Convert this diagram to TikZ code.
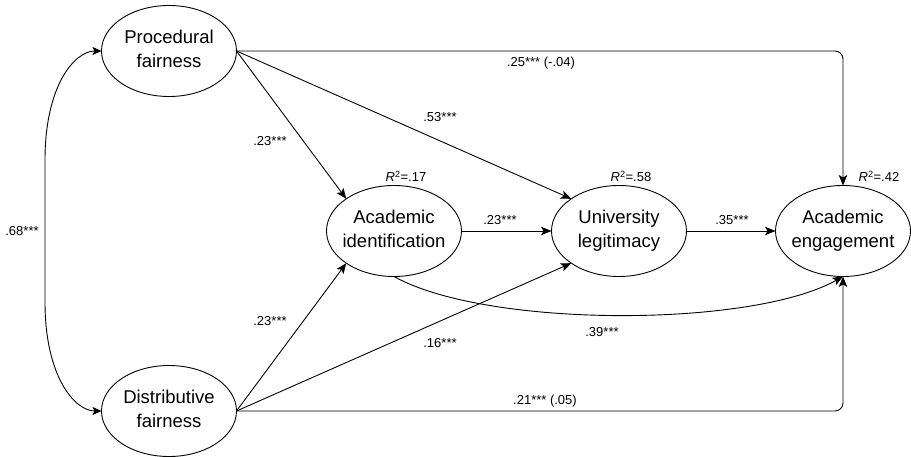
\documentclass[tikz,border=0pt]{standalone}
\usepackage{fontspec}
\setmainfont{Liberation Sans}
\usetikzlibrary{arrows.meta,shapes.geometric}
\begin{document}
\begin{tikzpicture}[x=1pt,y=-1pt,
  ell/.style={draw, ellipse, minimum width=135pt, minimum height=91pt, inner sep=0pt, outer sep=0pt, line width=0.9pt},
  ntext/.style={align=center, font=\fontsize{18.5}{24}\selectfont, inner sep=0pt},
  lab/.style={font=\fontsize{13}{15}\selectfont, inner sep=0pt, text height=9.3pt, text depth=0pt},
  arr/.style={-{Stealth[length=10.5pt,width=8.5pt,inset=2.5pt]}, line width=0.9pt},
  dbl/.style={{Stealth[length=9pt,width=8pt,inset=2pt]}-{Stealth[length=9pt,width=8pt,inset=2pt]}, line width=0.9pt}]
\useasboundingbox (0,0) rectangle (911,457);

% latent variables
\node[ell] (pf) at (169,51) {};
\node[ntext] (pft) at (pf) {\strut Procedural\\\strut fairness};
\node[ell] (df) at (169,411) {};
\node[ntext] (dft) at (df) {\strut Distributive\\\strut fairness};
\node[ell] (ai) at (394,231) {};
\node[ntext] (ait) at (ai) {\strut Academic\\\strut identification};
\node[ell] (ul) at (619,231) {};
\node[ntext] (ult) at (ul) {\strut University\\\strut legitimacy};
\node[ell] (ae) at (843,231) {};
\node[ntext] (aet) at (ae) {\strut Academic\\\strut engagement};

% paths
\draw[dbl] (pf.west) .. controls (75,51) and (45,85) .. (45,160) -- (45,302) .. controls (45,377) and (75,411) .. (df.west);
\draw[arr] (pf.east) -- (ai.north west);
\draw[arr] (pf.east) -- (ul.north west);
\draw[arr, rounded corners=8pt] (pf.east) -| (ae.north);
\draw[arr] (df.east) -- (ai.south west);
\draw[arr] (df.east) -- (ul.south west);
\draw[arr, rounded corners=8pt] (df.east) -| (ae.south);
\draw[arr] (ai.east) -- (ul.west);
\draw[arr] (ul.east) -- (ae.west);
\draw[arr] (ai.south) .. controls (486,328) and (751,328) .. (ae.south);

% coefficients
\node[lab] (l68) at (22,231) {.68***};
\node[lab] (l23a) at (270,141) {.23***};
\node[lab] (l53) at (440,117) {.53***};
\node[lab] (l25) at (541,62) {.25*** (-.04)};
\node[lab] (l23b) at (270,321) {.23***};
\node[lab] (l16) at (440,343) {.16***};
\node[lab] (l21) at (545,400) {.21*** (.05)};
\node[lab] (l23c) at (500,220) {.23***};
\node[lab] (l35) at (732,220) {.35***};
\node[lab] (l39) at (602,332) {.39***};

% R squared
\node[lab] (r17) at (406,177) {\textit{R}\textsuperscript{2}=.17};
\node[lab] (r58) at (631,177) {\textit{R}\textsuperscript{2}=.58};
\node[lab] (r42) at (879,177) {\textit{R}\textsuperscript{2}=.42};
\end{tikzpicture}
\end{document}
